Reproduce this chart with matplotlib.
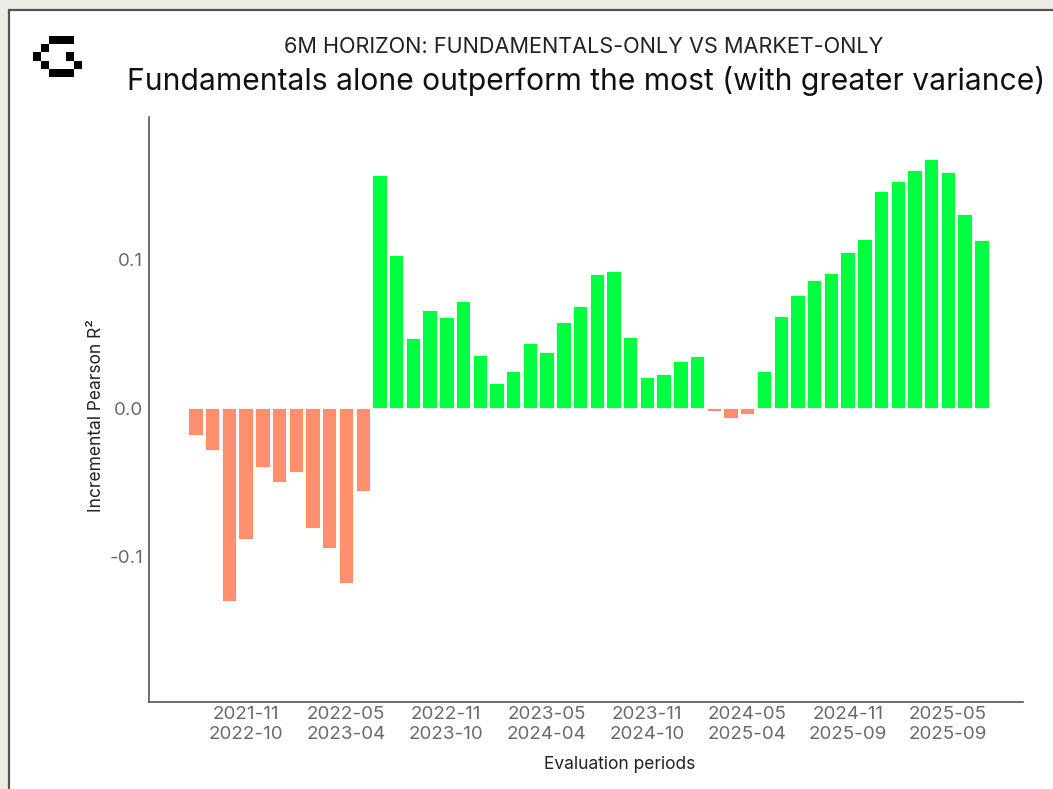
#!/usr/bin/env python3
"""6M horizon: incremental Pearson R^2 of fundamentals-only vs market-only."""

import matplotlib

matplotlib.use("Agg")
import matplotlib.pyplot as plt
import numpy as np
import pandas as pd
from matplotlib.patches import Rectangle

# rolling evaluation windows, one per month
period_starts = pd.period_range("2021-08", "2025-07", freq="M")
last_month = pd.Period("2025-09", freq="M")

incremental_r2 = [
    -0.018, -0.028, -0.130, -0.088, -0.040, -0.050, -0.043, -0.081, -0.094, -0.118,
    -0.056, 0.157, 0.103, 0.047, 0.066, 0.061, 0.072, 0.036, 0.017, 0.025,
    0.044, 0.038, 0.058, 0.069, 0.090, 0.092, 0.048, 0.021, 0.023, 0.032,
    0.035, -0.002, -0.007, -0.004, 0.025, 0.062, 0.076, 0.086, 0.091, 0.105,
    0.114, 0.146, 0.153, 0.160, 0.168, 0.159, 0.131, 0.113,
]

labelled_starts = ["2021-11", "2022-05", "2022-11", "2023-05",
                   "2023-11", "2024-05", "2024-11", "2025-05"]

POS_COLOR = "#00ff41"
NEG_COLOR = "#ff8f6e"
LOGO = np.array([
    [0, 0, 1, 1, 1, 0],
    [0, 1, 0, 0, 0, 0],
    [1, 0, 0, 0, 1, 0],
    [0, 1, 0, 0, 0, 1],
    [0, 0, 1, 1, 1, 0],
])

plt.rcParams["font.family"] = ["Inter", "DejaVu Sans"]
plt.rcParams["axes.unicode_minus"] = False

W, H = 1053, 789
fig = plt.figure(figsize=(W / 100, H / 100), dpi=100, facecolor="#ecebe4")

# white card with dark border (cropped at right/bottom)
fig.patches.append(Rectangle((9 / W, -0.05), 1.1, 1 - 10 / H + 0.05,
                             transform=fig.transFigure, facecolor="white",
                             edgecolor="#555555", linewidth=1.6, zorder=-5))

logo_ax = fig.add_axes([33 / W, 1 - 77 / H, 49 / W, 41 / H])
logo_ax.imshow(LOGO, cmap="gray_r", vmin=0, vmax=1, aspect="auto",
               interpolation="nearest")
logo_ax.axis("off")

fig.text(584 / W, 1 - 53 / H, "6M HORIZON: FUNDAMENTALS-ONLY VS MARKET-ONLY",
         ha="center", va="baseline", fontsize=15.6, color="#222222")
fig.text(586.5 / W, 1 - 90 / H,
         "Fundamentals alone outperform the most (with greater variance)",
         ha="center", va="baseline", fontsize=21.6, color="#111111")

ax = fig.add_axes([148.5 / W, 1 - 702 / H, (1022.7 - 148.5) / W, (702 - 117) / H])
ax.set_zorder(1)
x = np.arange(len(incremental_r2))
colors = [POS_COLOR if v >= 0 else NEG_COLOR for v in incremental_r2]
ax.bar(x, incremental_r2, width=0.86, color=colors, edgecolor="white", linewidth=0.6)

ax.set_xlim(-2.81, 49.47)
ax.set_ylim(-0.198, 0.196)
ax.set_yticks([-0.1, 0.0, 0.1])
ax.set_yticklabels(["-0.1", "0.0", "0.1"])

starts = [str(p) for p in period_starts]
tick_pos = [starts.index(s) for s in labelled_starts]
tick_labels = [f"{period_starts[i]}\n{min(period_starts[i] + 11, last_month)}"
               for i in tick_pos]
ax.set_xticks(tick_pos)
ax.set_xticklabels(tick_labels, linespacing=1.25)

ax.tick_params(axis="both", length=0, labelsize=13.5, labelcolor="#6a6a6a")
ax.tick_params(axis="x", pad=3)
ax.tick_params(axis="y", pad=4)
for side in ("top", "right"):
    ax.spines[side].set_visible(False)
for side in ("left", "bottom"):
    ax.spines[side].set_color("#555555")
    ax.spines[side].set_linewidth(1.2)

ax.set_ylabel("Incremental Pearson R²", fontsize=12.5, color="#222222")
ax.yaxis.set_label_coords(-0.05, 0.49)
ax.set_xlabel("Evaluation periods", fontsize=12.5, color="#222222")
ax.xaxis.set_label_coords(0.539, -0.092)

fig.savefig("out.png", dpi=100, facecolor=fig.get_facecolor())
plt.close(fig)
